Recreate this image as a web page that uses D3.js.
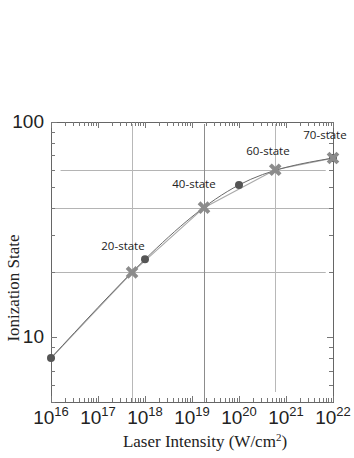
<!DOCTYPE html>
<html>
<head>
<meta charset="utf-8">
<script src="https://cdn.jsdelivr.net/npm/d3@7"></script>
<style>
  body { margin: 0; background: #fff; }
  svg { display: block; }
</style>
</head>
<body>
<div id="grafico"></div>
<script>
// data
const intensities = [1e16, 1e18, 1e20, 1e22]
const chargeStates = [8, 23, 51, 68]
const markIntensities = [1e16, 5.3e17, 1.8e19, 5.9e20, 1e22]
const markStates = [8, 20, 40, 60, 68]
const stateLabels = ['20-state', '40-state', '60-state', '70-state']
const xTicks = [16, 17, 18, 19, 20, 21, 22]
const yTicks = [10, 100]
const gridStates = [60, 40, 20]

const width = 354
const height = 458
const pLeft = 51, pRight = 333, pTop = 122, pBottom = 402

const svg = d3.select('#grafico').append('svg')
              .attr('width', width)
              .attr('height', height)

const x = d3.scaleLog().domain([1e16, 1e22]).range([pLeft, pRight])
const y = d3.scaleLog().domain([5, 100]).range([pBottom, pTop])

// grid
svg.append('g')
   .selectAll('line')
   .data(gridStates)
   .enter()
   .append('line')
   .attr('x1', (d, i) => i === 0 ? x(1.6e16) : pLeft)
   .attr('x2', (d, i) => i === 1 ? pRight : x(7e21))
   .attr('y1', d => Math.round(y(d)) + 0.5)
   .attr('y2', d => Math.round(y(d)) + 0.5)
   .style('stroke', '#b4b4b4')
   .style('stroke-width', 1)

svg.append('g')
   .selectAll('line')
   .data(markIntensities.slice(1, 4))
   .enter()
   .append('line')
   .attr('x1', d => Math.round(x(d)) + 0.5)
   .attr('x2', d => Math.round(x(d)) + 0.5)
   .attr('y1', pTop + 2)
   .attr('y2', (d, i) => i === 2 ? pBottom - 10 : pBottom)
   .style('stroke', (d, i) => i === 1 ? '#8c8c8c' : '#b8b8b8')
   .style('stroke-width', 1)

// frame
svg.append('rect')
   .attr('x', pLeft + 0.5)
   .attr('y', pTop + 0.5)
   .attr('width', pRight - pLeft)
   .attr('height', pBottom - pTop)
   .style('fill', 'none')
   .style('stroke', '#666')
   .style('stroke-width', 1)

// minor + major ticks on all sides, pointing in
const xMinor = []
for (let e = 16; e < 22; e++) for (let m = 1; m < 10; m++) xMinor.push({v: m * Math.pow(10, e), major: m === 1})
xMinor.push({v: 1e22, major: true})
const yMinor = []
for (let e = 0; e < 2; e++) for (let m = 1; m < 10; m++) {
    const v = m * Math.pow(10, e)
    if (v >= 5 && v <= 100) yMinor.push({v: v, major: m === 1})
}
yMinor.push({v: 100, major: true})

const ticks = svg.append('g').style('stroke', '#777').style('stroke-width', 1)
ticks.selectAll('.tb')
     .data(xMinor)
     .enter()
     .append('line')
     .attr('x1', d => Math.round(x(d.v)) + 0.5)
     .attr('x2', d => Math.round(x(d.v)) + 0.5)
     .attr('y1', pBottom)
     .attr('y2', d => pBottom - (d.major ? 6 : 4))
ticks.selectAll('.tt')
     .data(xMinor)
     .enter()
     .append('line')
     .attr('x1', d => Math.round(x(d.v)) + 0.5)
     .attr('x2', d => Math.round(x(d.v)) + 0.5)
     .attr('y1', pTop)
     .attr('y2', d => pTop + (d.major ? 6 : 4))
ticks.selectAll('.tl')
     .data(yMinor)
     .enter()
     .append('line')
     .attr('y1', d => Math.round(y(d.v)) + 0.5)
     .attr('y2', d => Math.round(y(d.v)) + 0.5)
     .attr('x1', pLeft)
     .attr('x2', d => pLeft + (d.major ? 6 : 4))
ticks.selectAll('.tr')
     .data(yMinor)
     .enter()
     .append('line')
     .attr('y1', d => Math.round(y(d.v)) + 0.5)
     .attr('y2', d => Math.round(y(d.v)) + 0.5)
     .attr('x1', pRight)
     .attr('x2', d => pRight - (d.major ? 6 : 4))

// curves
const light = d3.line()
                .x((d, i) => x(markIntensities[i]))
                .y(d => y(d))
svg.append('path')
   .attr('d', light(markStates))
   .style('fill', 'none')
   .style('stroke', '#aaa')
   .style('stroke-width', 1.2)

const dark = d3.line()
               .x((d, i) => x(intensities[i]))
               .y(d => y(d))
               .curve(d3.curveNatural)
svg.append('path')
   .attr('d', dark(chargeStates))
   .style('fill', 'none')
   .style('stroke', '#6a6a6a')
   .style('stroke-width', 1)

// dots
svg.append('g')
   .selectAll('circle')
   .data(chargeStates)
   .enter()
   .append('circle')
   .attr('cx', (d, i) => x(intensities[i]))
   .attr('cy', d => y(d))
   .attr('r', 4)
   .style('fill', '#555')

// crosses
const cross = svg.append('g')
                 .selectAll('g')
                 .data(markStates.slice(1))
                 .enter()
                 .append('g')
                 .attr('transform', (d, i) => `translate(${x(markIntensities[i + 1])}, ${y(d)})`)
cross.append('path')
     .attr('d', 'M-3.5,-3.5L3.5,3.5M-3.5,3.5L3.5,-3.5')
     .style('stroke', '#8c8c8c')
     .style('stroke-width', 4)
     .style('stroke-linecap', 'square')

// state labels
const labelPos = [[123, 250], [194, 188], [268, 155], [325, 139]]
svg.append('g')
   .selectAll('text')
   .data(stateLabels)
   .enter()
   .append('text')
   .attr('x', (d, i) => labelPos[i][0])
   .attr('y', (d, i) => labelPos[i][1])
   .attr('text-anchor', 'middle')
   .style('font-family', '"Open Sans", sans-serif')
   .style('font-size', '11.5px')
   .style('fill', '#222')
   .text(d => d)

// x tick labels
const xl = svg.append('g')
              .selectAll('text')
              .data(xTicks)
              .enter()
              .append('text')
              .attr('x', d => x(Math.pow(10, d)))
              .attr('y', 424)
              .attr('text-anchor', 'middle')
              .style('font-family', '"Liberation Sans", Arial, sans-serif')
              .style('font-size', '19px')
              .style('fill', '#222')
xl.append('tspan').text('10')
xl.append('tspan')
  .attr('dy', -8)
  .style('font-size', '13px')
  .text(d => d)

// y tick labels
svg.append('g')
   .selectAll('text')
   .data(yTicks)
   .enter()
   .append('text')
   .attr('x', 44)
   .attr('y', d => y(d) + 6)
   .attr('text-anchor', 'end')
   .style('font-family', '"Liberation Sans", Arial, sans-serif')
   .style('font-size', '19px')
   .style('fill', '#222')
   .text(d => d)

// axis titles
const xt = svg.append('text')
              .attr('x', 205)
              .attr('y', 447)
              .attr('text-anchor', 'middle')
              .style('font-family', '"Liberation Serif", "Times New Roman", serif')
              .style('font-size', '17px')
              .style('fill', '#222')
xt.append('tspan').text('Laser Intensity (W/cm')
xt.append('tspan').attr('dy', -6).style('font-size', '11px').text('2')
xt.append('tspan').attr('dy', 6).text(')')

svg.append('text')
   .attr('transform', 'translate(19, 288) rotate(-90)')
   .attr('text-anchor', 'middle')
   .style('font-family', '"Liberation Serif", "Times New Roman", serif')
   .style('font-size', '17px')
   .style('fill', '#222')
   .text('Ionization State')
</script>
</body>
</html>
